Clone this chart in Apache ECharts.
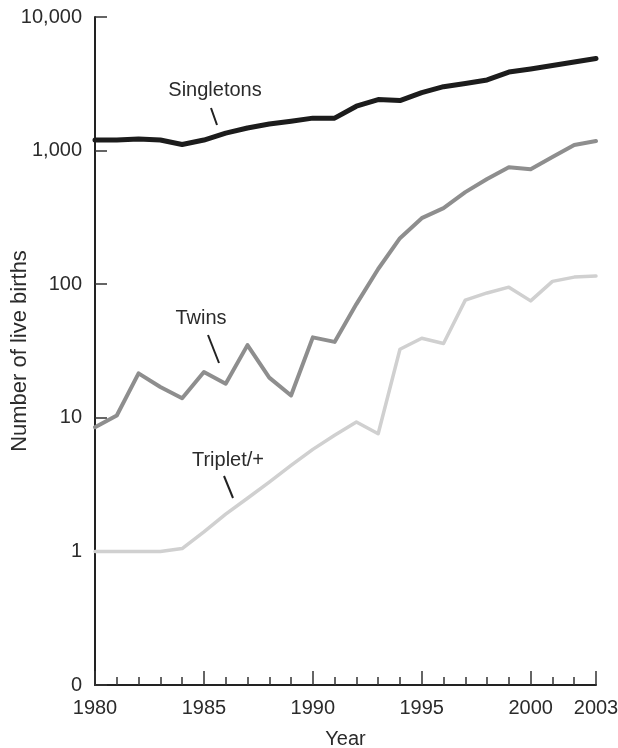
<!DOCTYPE html>
<html><head><meta charset="utf-8">
<script src="https://cdn.jsdelivr.net/npm/echarts@6/dist/echarts.min.js"></script>
<style>html,body{margin:0;padding:0;background:#fff}#c{width:618px;height:748px}</style>
</head><body><div id="c"></div>
<script>
const years = [1980,1981,1982,1983,1984,1985,1986,1987,1988,1989,1990,1991,1992,1993,1994,1995,1996,1997,1998,1999,2000,2001,2002,2003];
const singletons = [1200,1200,1220,1200,1110,1200,1350,1475,1580,1660,1750,1750,2150,2410,2370,2720,3010,3180,3380,3870,4080,4330,4600,4890];
const twins = [8.5,10.4,21.5,17,14,22,18,35,20,14.7,40,37,71,130,221,312,371,489,612,750,726,894,1100,1180];
const triplets = [1,1,1,1,1.05,1.4,1.9,2.5,3.3,4.4,5.8,7.4,9.3,7.6,32.6,39.4,36,76,86,95,75,105,113,115];
const yTickLabels = {'-1':'0','0':'1','1':'10','2':'100','3':'1,000','4':'10,000'};
const xTickLabels = [1980,1985,1990,1995,2000,2003];
const seriesNames = ['Singletons','Twins','Triplet/+'];

const FONT = '"Liberation Sans", Arial, Helvetica, sans-serif';
const TXT = '#2b2b2b';
const chart = echarts.init(document.getElementById('c'), null, {renderer:'canvas'});
const pair = arr => years.map((y,i)=>[y,arr[i]]);
chart.setOption({
  animation:false,
  backgroundColor:'#fff',
  grid:{left:95,right:22,top:17,bottom:63,containLabel:false,outerBoundsMode:'none'},
  xAxis:[{
    type:'value',min:1980,max:2003,interval:5,
    name:'Year',nameLocation:'middle',nameGap:44,nameMoveOverlap:false,
    nameTextStyle:{fontFamily:FONT,fontSize:20,color:TXT},
    axisLine:{lineStyle:{color:'#222',width:2}},
    axisTick:{inside:true,length:14,lineStyle:{color:'#333',width:1.5}},
    axisLabel:{margin:13,fontFamily:FONT,fontSize:20,color:TXT,
      formatter:v=>xTickLabels.includes(Math.round(v))?String(Math.round(v)):''},
    splitLine:{show:false}
  },{
    type:'value',min:1980,max:2003,interval:1,position:'bottom',
    axisLine:{show:false},
    axisTick:{inside:true,length:8,lineStyle:{color:'#333',width:1.5}},
    axisLabel:{show:false},splitLine:{show:false}
  }],
  yAxis:{
    type:'log',logBase:10,min:0.1,max:10000,
    name:'Number of live births',nameLocation:'middle',nameGap:64,nameRotate:90,nameMoveOverlap:false,
    nameTextStyle:{fontFamily:FONT,fontSize:22,color:TXT},
    axisLine:{show:true,lineStyle:{color:'#222',width:2}},
    axisTick:{show:true,inside:true,length:12,lineStyle:{color:'#333',width:1.5}},
    axisLabel:{margin:13,fontFamily:FONT,fontSize:20,color:TXT,
      formatter:v=>{const k=String(Math.round(Math.log10(v)));return yTickLabels[k]||'';}},
    splitLine:{show:false},minorTick:{show:false}
  },
  series:[
    {name:seriesNames[0],type:'line',data:pair(singletons),showSymbol:false,
      lineStyle:{color:'#1c1c1c',width:5,join:'round',cap:'round'}},
    {name:seriesNames[1],type:'line',data:pair(twins),showSymbol:false,
      lineStyle:{color:'#8e8e8e',width:4,join:'round',cap:'round'}},
    {name:seriesNames[2],type:'line',data:pair(triplets),showSymbol:false,
      lineStyle:{color:'#d0d0d0',width:3.5,join:'round',cap:'round'}}
  ],
  graphic:[
    {type:'text',x:215,y:90,style:{text:seriesNames[0],font:'20px '+FONT,fill:TXT,align:'center',verticalAlign:'middle'}},
    {type:'line',shape:{x1:211,y1:108,x2:217,y2:125},style:{stroke:'#222',lineWidth:2}},
    {type:'text',x:201,y:318,style:{text:seriesNames[1],font:'20px '+FONT,fill:TXT,align:'center',verticalAlign:'middle'}},
    {type:'line',shape:{x1:208,y1:335,x2:219,y2:363},style:{stroke:'#222',lineWidth:2}},
    {type:'text',x:228,y:460,style:{text:seriesNames[2],font:'20px '+FONT,fill:TXT,align:'center',verticalAlign:'middle'}},
    {type:'line',shape:{x1:224,y1:476,x2:233,y2:498},style:{stroke:'#222',lineWidth:2}}
  ]
});
</script></body></html>
